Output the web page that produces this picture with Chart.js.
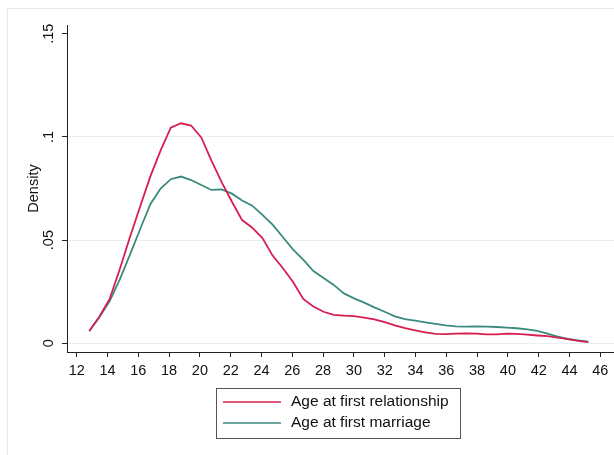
<!DOCTYPE html>
<html>
<head>
<meta charset="utf-8">
<script src="https://cdn.jsdelivr.net/npm/chart.js@4"></script>
<style>
  html, body { margin: 0; padding: 0; background: #fff; }
  #wrap { width: 614px; height: 455px; position: relative; }
</style>
</head>
<body>
<div id="wrap"><canvas id="c" width="614" height="455"></canvas></div>
<script>
// Kernel density estimates evaluated on a common age grid
const ages = [12.82,13.48,14.14,14.80,15.46,16.13,16.79,17.45,18.11,18.77,
              19.43,20.09,20.75,21.42,22.08,22.74,23.40,24.06,24.72,25.38,
              26.04,26.71,27.37,28.03,28.69,29.35,30.01,30.67,31.33,32.00,
              32.66,33.32,33.98,34.64,35.30,35.96,36.62,37.28,37.95,38.61,
              39.27,39.93,40.59,41.25,41.91,42.57,43.24,43.90,44.56,45.22];

const firstRelationship = [0.0060,0.0130,0.0215,0.0360,0.0515,0.0665,0.0810,0.0935,0.1045,0.1066,
                           0.1055,0.0997,0.0885,0.0780,0.0686,0.0597,0.0560,0.0510,0.0425,0.0365,
                           0.0298,0.0215,0.0178,0.0153,0.0138,0.0134,0.0132,0.0125,0.0116,0.0103,
                           0.0087,0.0074,0.0063,0.0053,0.0046,0.0045,0.0047,0.0048,0.0047,0.0043,
                           0.0043,0.0047,0.0046,0.0042,0.0038,0.0035,0.0028,0.0020,0.0012,0.0006];

const firstMarriage = [0.0060,0.0128,0.0205,0.0310,0.0430,0.0555,0.0675,0.0750,0.0795,0.0808,
                       0.0791,0.0767,0.0743,0.0746,0.0725,0.0692,0.0667,0.0622,0.0575,0.0515,
                       0.0455,0.0405,0.0350,0.0316,0.0283,0.0242,0.0218,0.0197,0.0174,0.0153,
                       0.0131,0.0117,0.0110,0.0102,0.0094,0.0087,0.0082,0.0081,0.0082,0.0081,
                       0.0079,0.0076,0.0073,0.0068,0.0060,0.0047,0.0033,0.0021,0.0014,0.0008];

const seriesNames = ['Age at first relationship', 'Age at first marriage'];
const xTickValues = [12,14,16,18,20,22,24,26,28,30,32,34,36,38,40,42,44,46];
const yTickValues = [0, 0.05, 0.1, 0.15];
const yTickLabels = ['0', '.05', '.1', '.15'];
const yTitle = 'Density';

const colors = ['#d81e50', '#3a8a7e'];
const FONT = '"Liberation Sans", Arial, sans-serif';
const TEXT = '#111';

const toPoints = (xs, ys) => xs.map((x, i) => ({ x: x, y: ys[i] }));

// Light outer frame of the graph region
const framePlugin = {
  id: 'frame',
  beforeDraw(chart) {
    const ctx = chart.ctx;
    ctx.save();
    ctx.fillStyle = '#fff';
    ctx.fillRect(0, 0, chart.width, chart.height);
    ctx.strokeStyle = '#e4e9eb';
    ctx.lineWidth = 1;
    ctx.strokeRect(7.5, 8.5, chart.width, chart.height);
    ctx.restore();
  }
};

// Vertical y tick labels, read bottom to top
const yLabelPlugin = {
  id: 'yLabels',
  afterDraw(chart) {
    const ctx = chart.ctx;
    const ys = chart.scales.y;
    ctx.save();
    ctx.fillStyle = TEXT;
    ctx.font = '14.5px ' + FONT;
    ctx.textAlign = 'center';
    ctx.textBaseline = 'middle';
    yTickValues.forEach((v, i) => {
      const py = ys.getPixelForValue(v);
      ctx.save();
      ctx.translate(49, py);
      ctx.rotate(-Math.PI / 2);
      ctx.fillText(yTickLabels[i], 0, 0);
      ctx.restore();
    });
    ctx.restore();
  }
};

// Boxed legend with line samples, one entry per row
const legendPlugin = {
  id: 'boxLegend',
  afterDraw(chart) {
    const ctx = chart.ctx;
    const bx = 216.5, by = 388.5, bw = 244, bh = 50;
    ctx.save();
    ctx.strokeStyle = '#555';
    ctx.lineWidth = 1;
    ctx.strokeRect(bx, by, bw, bh);
    ctx.font = '15.5px ' + FONT;
    ctx.textBaseline = 'middle';
    ctx.textAlign = 'left';
    chart.data.datasets.forEach((ds, i) => {
      const y = 402 + i * 21;
      ctx.strokeStyle = ds.borderColor;
      ctx.lineWidth = 1.6;
      ctx.beginPath();
      ctx.moveTo(223, y);
      ctx.lineTo(281, y);
      ctx.stroke();
      ctx.fillStyle = TEXT;
      ctx.fillText(ds.label, 291, y);
    });
    ctx.restore();
  }
};

new Chart(document.getElementById('c'), {
  type: 'line',
  data: {
    datasets: [
      { label: seriesNames[0], data: toPoints(ages, firstRelationship),
        borderColor: colors[0], borderWidth: 1.8, pointRadius: 0, tension: 0, fill: false },
      { label: seriesNames[1], data: toPoints(ages, firstMarriage),
        borderColor: colors[1], borderWidth: 1.8, pointRadius: 0, tension: 0, fill: false }
    ]
  },
  options: {
    responsive: false,
    animation: false,
    devicePixelRatio: 1,
    layout: { padding: { top: 25, left: 0, right: 0, bottom: 0 } },
    plugins: { legend: { display: false }, tooltip: { enabled: false } },
    scales: {
      x: {
        type: 'linear',
        min: 11.37,
        max: 46.89,
        afterBuildTicks: s => { s.ticks = xTickValues.map(v => ({ value: v })); },
        afterFit: s => { s.height = 103; },
        border: { display: true, color: '#222', width: 1 },
        grid: { drawOnChartArea: false, drawTicks: true, tickLength: 5, color: '#222', tickColor: '#222' },
        ticks: { color: TEXT, font: { family: FONT, size: 14.5 }, padding: 5,
                 maxRotation: 0, minRotation: 0, autoSkip: false,
                 callback: v => String(v) }
      },
      y: {
        type: 'linear',
        min: -0.0042,
        max: 0.1542,
        afterBuildTicks: s => { s.ticks = yTickValues.map(v => ({ value: v })); },
        afterFit: s => { s.width = 67; },
        border: { display: true, color: '#222', width: 1 },
        grid: {
          drawOnChartArea: true, drawTicks: true, tickLength: 5,
          color: c => (c.tick && c.tick.value === 0.15) ? 'rgba(0,0,0,0)' : '#e6eef1',
          tickColor: '#222', lineWidth: 1
        },
        ticks: { display: false },
        title: { display: true, text: yTitle, color: TEXT,
                 font: { family: FONT, size: 14.5 }, padding: { top: 25, bottom: 0 } }
      }
    }
  },
  plugins: [framePlugin, yLabelPlugin, legendPlugin]
});
</script>
</body>
</html>
